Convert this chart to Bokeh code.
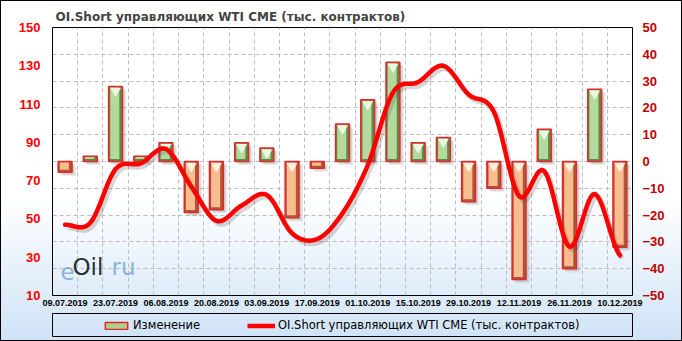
import numpy as np
from bokeh.plotting import figure
from bokeh.layouts import column
from bokeh.models import (Range1d, LinearAxis, FixedTicker, Legend, LegendItem, Label)
from bokeh.embed import file_html
from bokeh.resources import INLINE

# ---------------- data ----------------
dates = ["09.07.2019", "16.07.2019", "23.07.2019", "30.07.2019", "06.08.2019",
         "13.08.2019", "20.08.2019", "27.08.2019", "03.09.2019", "10.09.2019",
         "17.09.2019", "24.09.2019", "01.10.2019", "08.10.2019", "15.10.2019",
         "22.10.2019", "29.10.2019", "05.11.2019", "12.11.2019", "19.11.2019",
         "26.11.2019", "03.12.2019", "10.12.2019"]
oi_short = [47, 48, 76, 79, 86.5, 67, 49, 57, 62.5, 42.5, 39.5, 53, 78,
            116, 121.5, 130, 115, 106, 62, 75, 35.5, 63, 31]
change = [-4, 2, 28, 2, 7, -19, -18, 7, 5, -21, -2.5, 14, 23, 37, 7, 9,
          -15, -10, -44, 12, -40, 27, -32]
left_ticks = [10, 30, 50, 70, 90, 110, 130, 150]
right_ticks = [-50, -40, -30, -20, -10, 0, 10, 20, 30, 40, 50]
title_text = "OI.Short управляющих WTI CME (тыс. контрактов)"
bar_label = "Изменение"
line_label = "OI.Short управляющих WTI CME (тыс. контрактов)"

GREEN_L, GREEN_D, GREEN_T = "#b3da9c", "#5e8a45", "#eaf7e1"
ORANGE_L, ORANGE_D, ORANGE_T = "#fbbd90", "#a65a36", "#fff0e2"
OUTLINE = "#e8262a"
LINE_C = "#ff0000"

# ---------------- main figure ----------------
n = len(dates)
p = figure(width=682, height=310, x_range=Range1d(-0.5, n - 0.5),
           y_range=Range1d(left_ticks[0], left_ticks[-1]),
           output_backend="svg", toolbar_location=None,
           min_border_left=52, min_border_right=50,
           min_border_top=27, min_border_bottom=15)
p.extra_y_ranges = {"chg": Range1d(right_ticks[0], right_ticks[-1])}
p.background_fill_alpha = 0
p.border_fill_alpha = 0
p.outline_line_color = "black"
p.outline_line_width = 1

p.title.text = title_text
p.title.text_font = "DejaVu Sans"
p.title.text_font_style = "bold"
p.title.text_font_size = "12px"
p.title.align = "left"
p.title.offset = 3
p.title.standoff = 7

# grids
p.xgrid.ticker = FixedTicker(ticks=[i + 0.5 for i in range(n - 1)])
p.ygrid.ticker = FixedTicker(ticks=right_ticks)
p.ygrid.y_range_name = "chg"
for g in (p.xgrid, p.ygrid):
    g.grid_line_color = "#bcbcbc"
    g.grid_line_dash = "4 3"
    g.grid_line_width = 1

# axes
p.xaxis.ticker = FixedTicker(ticks=list(range(0, n, 2)))
p.xaxis.major_label_overrides = {i: dates[i] for i in range(0, n, 2)}
p.xaxis.major_label_text_font = "Liberation Sans"
p.xaxis.major_label_text_font_style = "bold"
p.xaxis.major_label_text_font_size = "9px"
p.xaxis.major_label_text_color = "black"
p.xaxis.major_label_standoff = 4

p.yaxis.ticker = FixedTicker(ticks=left_ticks)
p.yaxis.major_label_text_color = "#ff0000"
p.yaxis.major_label_standoff = 12

right = LinearAxis(y_range_name="chg", ticker=FixedTicker(ticks=right_ticks))
right.major_label_text_color = "#c00000"
right.major_label_standoff = 10
p.add_layout(right, "right")

for ax in (p.yaxis[0], right):
    ax.major_label_text_font = "Liberation Sans"
    ax.major_label_text_font_style = "bold"
    ax.major_label_text_font_size = "13px"
for ax in (p.xaxis[0], p.yaxis[0], right):
    ax.axis_line_color = None
    ax.major_tick_line_color = None
    ax.minor_tick_line_color = None
    ax.major_tick_out = 0
    ax.major_tick_in = 0

# ---------------- bars ----------------
idx = np.arange(n, dtype=float)
ch = np.array(change, dtype=float)
W = 0.55
for mask, light, dark, tri in ((ch > 0, GREEN_L, GREEN_D, GREEN_T),
                               (ch < 0, ORANGE_L, ORANGE_D, ORANGE_T)):
    xs = idx[mask]
    v = ch[mask]
    top = np.maximum(v, 0)
    bot = np.minimum(v, 0)
    for dx, dy, a in ((0.16, 1.4, 0.10), (0.10, 0.9, 0.18)):
        p.vbar(x=xs + dx, top=top - dy, bottom=bot - dy, width=W,
               fill_color="#555555", fill_alpha=a, line_color=None, y_range_name="chg")
    p.vbar(x=xs, top=top, bottom=bot, width=W, fill_color=dark,
           line_color=None, y_range_name="chg")
    inner_top = top - 0.3
    inner_bot = np.minimum(bot + 0.9, inner_top - 0.2)
    p.vbar(x=xs - 0.03, top=inner_top, bottom=inner_bot, width=0.36,
           fill_color=light, line_color=None, y_range_name="chg")
    big = np.abs(v) >= 5
    p.scatter(x=xs[big], y=top[big] - 1.7, marker="inverted_triangle", size=11,
              fill_color=tri, line_color=None, y_range_name="chg")
    p.vbar(x=xs, top=top, bottom=bot, width=W, fill_color=None,
           line_color=OUTLINE, line_width=1.5, y_range_name="chg")


# ---------------- smooth line ----------------
def smooth(xv, yv, k=16):
    xv = np.asarray(xv, float)
    yv = np.asarray(yv, float)
    py = np.concatenate([[yv[0]], yv, [yv[-1]]])
    ox, oy = [], []
    t = np.linspace(0, 1, k, endpoint=False)
    h00 = 2 * t**3 - 3 * t**2 + 1
    h10 = t**3 - 2 * t**2 + t
    h01 = -2 * t**3 + 3 * t**2
    h11 = t**3 - t**2
    for i in range(len(xv) - 1):
        p0, p1, p2, p3 = py[i], py[i + 1], py[i + 2], py[i + 3]
        m1 = (p2 - p0) / 2
        m2 = (p3 - p1) / 2
        ox.extend(xv[i] + t * (xv[i + 1] - xv[i]))
        oy.extend(h00 * p1 + h10 * m1 + h01 * p2 + h11 * m2)
    ox.append(xv[-1])
    oy.append(yv[-1])
    return np.array(ox), np.array(oy)


sx, sy = smooth(idx, oi_short)
p.line(sx + 0.1, sy - 1.6, line_color="#444444", line_alpha=0.22, line_width=5)
p.line(sx, sy, line_color=LINE_C, line_width=4.5, line_join="round", line_cap="round")

# ---------------- watermark ----------------
for txt, x0, col in (("e", 8, "#7eaad8"), ("Oil", 20, "#111111"), ("ru", 59, "#7eaad8")):
    p.add_layout(Label(x=x0, y=16, x_units="screen", y_units="screen", text=txt,
                       text_font="DejaVu Sans", text_font_size="23px",
                       text_color=col, text_alpha=0.9))

# ---------------- legend figure ----------------
lf = figure(width=682, height=31, x_range=Range1d(0, 1), y_range=Range1d(0, 1),
            x_axis_type=None, y_axis_type=None, output_backend="svg",
            toolbar_location=None, min_border_left=50, min_border_right=50,
            min_border_top=3, min_border_bottom=5)
lf.background_fill_alpha = 0
lf.border_fill_alpha = 0
lf.outline_line_color = "black"
lf.outline_line_width = 1
lf.grid.visible = False

# legend proxies, kept outside the visible range of this strip
bar_leg = lf.vbar(x=[-10], top=[-9], bottom=[-10], width=0.5, fill_color="#a9d08e",
                  line_color=OUTLINE, line_width=1.5)
line_leg = lf.line(x=[-10, -9], y=[-10, -10], line_color=LINE_C, line_width=4.5)
leg = Legend(items=[LegendItem(label=bar_label, renderers=[bar_leg]),
                    LegendItem(label=line_label, renderers=[line_leg])],
             location=(50, 4), orientation="horizontal", padding=0, margin=0,
             spacing=6, glyph_width=28, glyph_height=9, label_standoff=3,
             label_width=108, label_height=14, border_line_color=None,
             background_fill_alpha=0, label_text_font="DejaVu Sans",
             label_text_font_size="11.5px", label_text_color="black")
lf.add_layout(leg, "center")

layout = column(p, lf, spacing=0)
layout.styles = {"background": "linear-gradient(to bottom, #ffffff 0%, #ffffff 58%, #cfe3f7 100%)",
                 "outline": "1px solid black", "outline-offset": "-1px"}

open("out.html", "w").write(file_html(layout, INLINE))
